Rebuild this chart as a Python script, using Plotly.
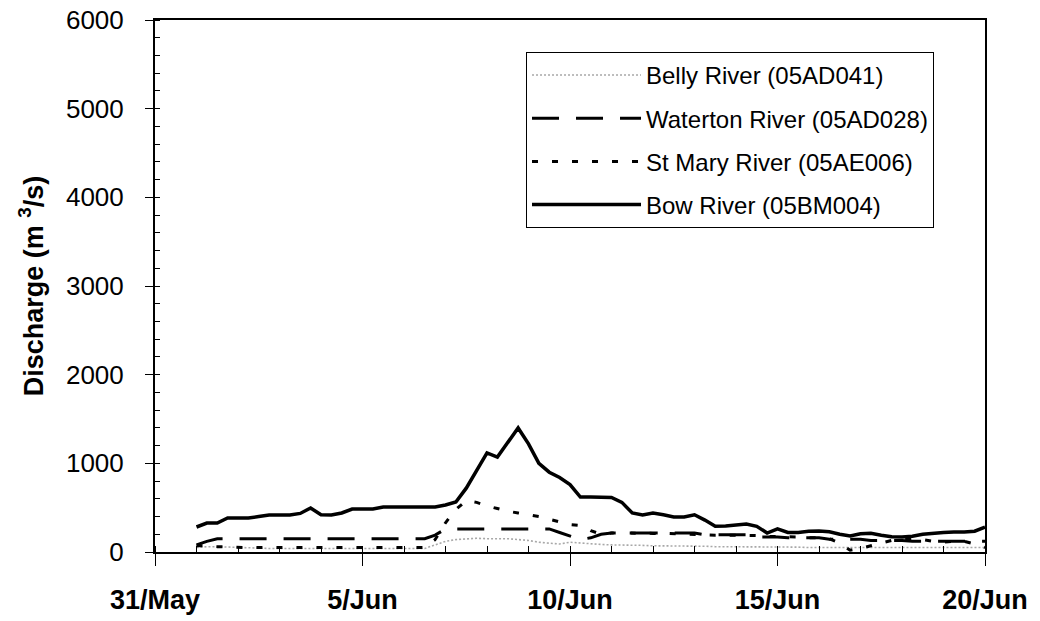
import pandas as pd
import plotly.graph_objects as go

# 6-hourly time axis, 1 Jun 00:00 to 20 Jun 00:00
times = pd.date_range("2002-06-01 00:00", "2002-06-20 00:00", freq="6h")

series_names = ["Belly River (05AD041)", "Waterton River (05AD028)",
                "St Mary River (05AE006)", "Bow River (05BM004)"]

belly = [50, 60, 60, 55, 50, 45, 45, 40, 40, 40, 40, 40, 40, 35, 35, 35, 35, 35, 35, 35,
         35, 35, 40, 80, 120, 140, 150, 155, 150, 150, 150, 140, 130, 110, 100, 90, 110, 100,
         90, 85, 80, 80, 75, 75, 70, 70, 70, 65, 65, 65, 60, 60, 60, 60, 60, 55, 55, 55, 55,
         50, 50, 50, 50, 50, 50, 50, 50, 50, 50, 50, 50, 50, 50, 50, 50, 50, 50]

waterton = [80, 120, 150, 150, 150, 152, 150, 150, 150, 150, 150, 150, 150, 150, 150, 150,
            150, 150, 150, 150, 150, 150, 150, 190, 260, 260, 260, 260, 260, 260, 260, 260,
            260, 260, 260, 220, 180, 140, 160, 200, 214, 214, 214, 214, 214, 214, 214, 214,
            214, 195, 195, 195, 195, 195, 170, 170, 170, 160, 160, 160, 160, 145, 145, 145,
            145, 130, 130, 130, 130, 120, 120, 120, 120, 120, 120, 120, 120]

st_mary = [70, 70, 60, 55, 50, 50, 50, 50, 50, 50, 50, 50, 50, 50, 50, 50, 45, 45, 45, 45,
           45, 45, 50, 140, 330, 480, 580, 560, 520, 490, 460, 440, 420, 400, 370, 340, 310,
           300, 240, 200, 214, 214, 210, 210, 210, 210, 205, 205, 200, 190, 190, 190, 190,
           190, 185, 175, 175, 175, 170, 160, 160, 150, 100, 20, 40, 70, 100, 130, 145, 150,
           140, 120, 110, 120, 120, 90, 50]

bow = [282, 327, 327, 383, 383, 383, 400, 417, 417, 417, 435, 496, 420, 417, 440, 485, 485,
       485, 507, 507, 507, 507, 507, 507, 530, 564, 720, 920, 1117, 1071, 1240, 1399, 1220,
       1000, 900, 840, 760, 620, 620, 620, 615, 560, 440, 417, 440, 420, 395, 395, 420, 360,
       290, 293, 305, 316, 290, 214, 260, 220, 220, 235, 237, 228, 200, 180, 205, 212, 190,
       172, 170, 178, 200, 214, 220, 225, 225, 235, 282]

x_range = ["2002-05-31", "2002-06-20"]
y_range = [0, 6000]

FONT = "Liberation Sans, Arial, sans-serif"

styles = [
    dict(color="#a8a8a8", width=1.6, dash="2px,2px"),
    dict(color="black", width=3, dash="27px,17px"),
    dict(color="black", width=3, dash="6px,14px"),
    dict(color="black", width=3.5, dash="solid"),
]

fig = go.Figure()
for i, (name, vals) in enumerate(zip(series_names, [belly, waterton, st_mary, bow])):
    fig.add_trace(go.Scatter(x=times, y=vals, mode="lines", name=name,
                             line=styles[i], legendgroup=f"g{i}"))

fig.update_layout(
    width=1040, height=621,
    margin=dict(l=155, r=55, t=20, b=69),
    paper_bgcolor="white", plot_bgcolor="white",
    font=dict(family=FONT, color="black"),
    showlegend=True,
    legend=dict(x=0.447, y=0.94, xanchor="left", yanchor="top",
                bgcolor="white", bordercolor="black", borderwidth=1,
                font=dict(family=FONT, size=24, color="black"),
                tracegroupgap=9, itemwidth=109, traceorder="grouped",
                entrywidth=320, entrywidthmode="pixels"),
)

fig.update_xaxes(
    type="date", range=x_range, tick0="2002-05-31", dtick=5 * 86400000,
    tickformat="%-d/%b", ticks="outside", ticklen=12, tickwidth=1, tickcolor="black",
    tickfont=dict(family=FONT, size=27, weight="bold"), ticklabelstandoff=11,
    showline=True, linecolor="black", linewidth=1.5, mirror=True,
    showgrid=False, zeroline=False, automargin=False,
    minor=dict(dtick=86400000, tick0="2002-05-31", ticks="inside", ticklen=6,
               tickcolor="black", tickwidth=1, showgrid=False),
)

fig.update_yaxes(
    range=y_range, dtick=1000, tick0=0, ticks="outside", ticklen=8, tickwidth=1,
    tickcolor="black", tickfont=dict(family=FONT, size=26), ticklabelstandoff=16,
    showline=True, linecolor="black", linewidth=2, mirror=True,
    showgrid=False, zeroline=False, automargin=False,
    minor=dict(dtick=200, ticks="inside", ticklen=5, tickcolor="black", tickwidth=1,
               showgrid=False),
    title=dict(text="Discharge (m <sup>3</sup>/s)",
               font=dict(family=FONT, size=27, weight="bold"), standoff=15),
)

fig.write_html("out.html")
